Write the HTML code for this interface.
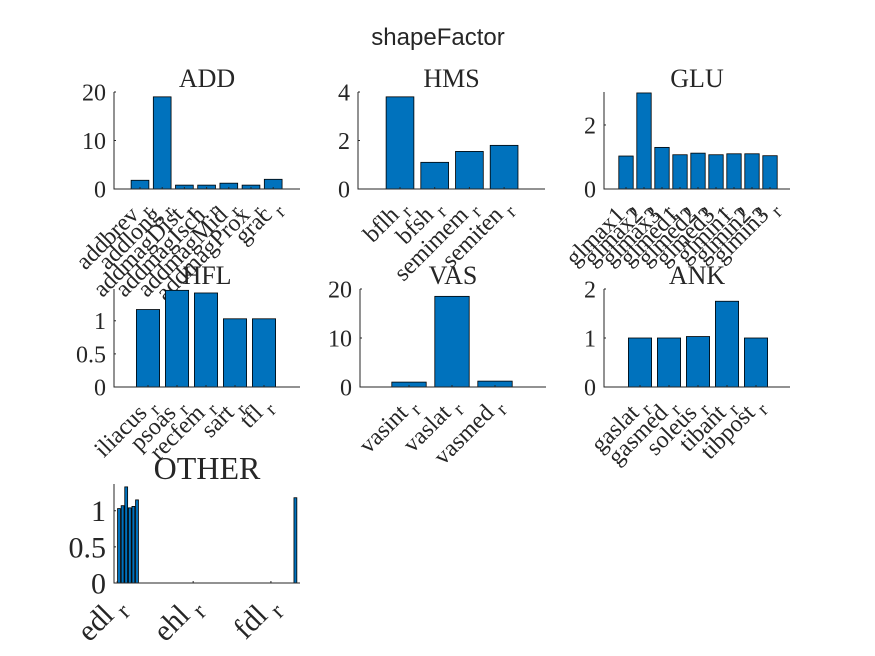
<!DOCTYPE html>
<html><head><meta charset="utf-8"><style>
body{margin:0;background:#fff;}
svg{display:block;}
text{font-family:"Liberation Serif",serif;fill:#262626;}
</style></head><body>
<svg id="fig" width="875" height="656" viewBox="0 0 875 656">
<rect width="875" height="656" fill="#fff"/>
<text x="438" y="45" text-anchor="middle" style="font-family:'Liberation Sans',sans-serif;font-size:24px" fill="#000">shapeFactor</text>
</svg>
<script>
const addCats=["addbrev","addlong","addmagDist","addmagIsch","addmagMid","addmagProx","grac"];
const addVals=[1.8,19,0.8,0.8,1.2,0.8,2.0];
const hmsCats=["bflh","bfsh","semimem","semiten"];
const hmsVals=[3.8,1.1,1.55,1.8];
const gluCats=["glmax1","glmax2","glmax3","glmed1","glmed2","glmed3","glmin1","glmin2","glmin3"];
const gluVals=[1.03,3.0,1.3,1.07,1.12,1.07,1.1,1.1,1.04];
const hflCats=["iliacus","psoas","recfem","sart","tfl"];
const hflVals=[1.17,1.46,1.42,1.03,1.03];
const vasCats=["vasint","vaslat","vasmed"];
const vasVals=[1.0,18.5,1.2];
const ankCats=["gaslat","gasmed","soleus","tibant","tibpost"];
const ankVals=[1.0,1.0,1.03,1.75,1.0];
const otherIdx=[1,2,3,4,5,6,50];
const otherVals=[1.03,1.07,1.33,1.04,1.06,1.15,1.18];
const otherTickIdx=[0.5,21.6,43.2];
const otherTickLabels=["edl","ehl","fdl"];
const addTicks=[0,10,20],hmsTicks=[0,2,4],gluTicks=[0,2],hflTicks=[0,0.5,1],vasTicks=[0,10,20],ankTicks=[0,1,2],otherTicks=[0,0.5,1];

const svg=document.getElementById('fig');
const NS='http://www.w3.org/2000/svg';
function el(tag,attrs,parent){const e=document.createElementNS(NS,tag);for(const k in attrs)e.setAttribute(k,attrs[k]);(parent||svg).appendChild(e);return e;}

function panel(p){
  const g=el('g',{});
  
  
  const xs=i=>p.x1+(i-1)*p.sp;
  const ys=v=>p.y0-(v/p.ymax)*(p.y0-p.yt);
  const fs=p.fs||24;
  p.vals.forEach((v,k)=>{
    const i=p.idx?p.idx[k]:k+1;
    const w=p.sp*0.8, h=Math.min(p.y0-ys(v),p.y0-p.yt);
    const r=el('rect',{x:xs(i)-w/2,y:p.y0-h,width:w,height:h,fill:'#0072bd',stroke:'#000','stroke-width':0.8},g);
    
    
  });
  const ax=el('path',{d:`M${p.xl},${p.yt}V${p.y0}H${p.xr}`,fill:'none',stroke:'#262626','stroke-width':1},g);
  
  
  p.ticks.forEach(t=>{
    const y=ys(t);
    el('line',{x1:p.xl,x2:p.xl+2,y1:y,y2:y,stroke:'#262626'},g);
    const tx=el('text',{x:p.xl-8,y:y+fs*0.35,'text-anchor':'end','font-size':fs},g);
    tx.textContent=String(t);
    
    
  });
  const labs=p.tickLabels||p.cats;
  labs.forEach((c,k)=>{
    const x=p.tickIdx?(p.x1+(p.tickIdx[k]-1)*p.sp):xs(k+1);
    el('line',{x1:x,x2:x,y1:p.y0,y2:p.y0-2,stroke:'#262626'},g);
    const ly=p.y0+fs*0.8;
    const tx=el('text',{x:x+8,y:ly,'text-anchor':'end','font-size':fs,transform:`rotate(-45 ${x+8} ${ly})`},g);
    tx.appendChild(document.createTextNode(c));
    const s=el('tspan',{dy:fs*0.3,dx:fs*0.2,'font-size':fs*0.8},tx);
    s.textContent='r';
    
    
  });
  const ti=el('text',{x:(p.xl+p.xr)/2,y:p.yt-5,'text-anchor':'middle','font-size':p.tfs||26,fill:'#000'},g);
  ti.textContent=p.title;
  
  
}
panel({name:'add',title:'ADD',cats:addCats,vals:addVals,ticks:addTicks,x1:140,sp:22.2,xl:114,xr:300,yt:92,y0:189,ymax:20});
panel({name:'hms',title:'HMS',cats:hmsCats,vals:hmsVals,ticks:hmsTicks,x1:400,sp:34.7,xl:358,xr:545,yt:92,y0:189,ymax:4});
panel({name:'glu',title:'GLU',cats:gluCats,vals:gluVals,ticks:gluTicks,x1:626,sp:18,xl:604,xr:790,yt:92,y0:189,ymax:3.03});
panel({name:'hfl',title:'HFL',cats:hflCats,vals:hflVals,ticks:hflTicks,x1:148,sp:29,xl:114,xr:300,yt:289,y0:387,ymax:1.48});
panel({name:'vas',title:'VAS',cats:vasCats,vals:vasVals,ticks:vasTicks,x1:409,sp:43,xl:360,xr:546,yt:289,y0:387,ymax:20});
panel({name:'ank',title:'ANK',cats:ankCats,vals:ankVals,ticks:ankTicks,x1:640,sp:29,xl:604,xr:790,yt:289,y0:387,ymax:2});
panel({name:'other',title:'OTHER',vals:otherVals,idx:otherIdx,ticks:otherTicks,tickIdx:otherTickIdx,tickLabels:otherTickLabels,x1:119,sp:3.6,xl:114,xr:300,yt:484,y0:583,ymax:1.37,fs:30,tfs:32});
</script>
</body></html>
